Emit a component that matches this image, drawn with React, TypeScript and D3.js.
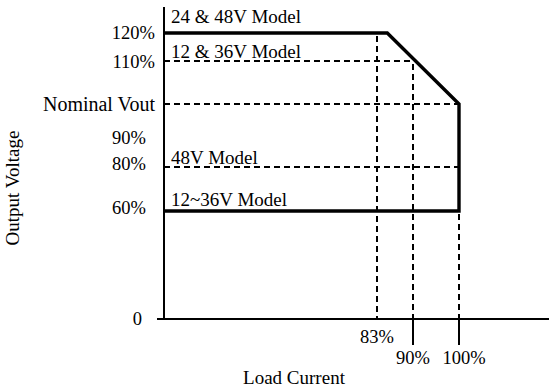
import React from "react";
import * as d3 from "d3";

// Y levels (percent of nominal output voltage)
const yLevels = [0, 60, 80, 90, 100, 110, 120];
const yLabels = ["0", "60%", "80%", "90%", "Nominal Vout", "110%", "120%"];
// X levels (percent load current)
const xTicks = [83, 90, 100];
const xTickLabels = ["83%", "90%", "100%"];
// Derating curves (load %, voltage %)
const upperCurve: [number, number][] = [[0, 120], [85, 120], [100, 100], [100, 60], [0, 60]];
// Model labels and the voltage level they sit on
const modelLabels = ["24 & 48V Model", "12 & 36V Model", "48V Model", "12~36V Model"];
const modelLevels = [120, 110, 80, 60];
// Dashed guide lines
const hGuides: [number, number, number][] = [[110, 0, 90], [100, 0, 100], [80, 0, 100]]; // [y, x0, x1]
const vGuides: [number, number, number][] = [[83, 120, 0], [90, 110, 0], [100, 60, 0]]; // [x, y0, y1]

const W = 550, H = 388;

export default function App() {
  const y = d3.scaleLinear().domain([0, 60, 80, 100, 110, 120]).range([319, 211, 167, 104, 61, 33]);
  const x = d3.scaleLinear().domain([0, 83, 90, 100]).range([164, 377, 413, 459]);
  const line = d3.line<[number, number]>().x(d => x(d[0])).y(d => y(d[1]));
  const font = "'Liberation Serif', 'Times New Roman', serif";

  const yLabelRight = (v: number) => (v === 0 ? 142 : v >= 100 ? 155 : 146);
  const yLabelDy = (v: number) => (v === 60 || v === 80 ? -3 : v === 90 ? 2 : v === 110 ? 1 : 0);
  const modelDy = (i: number) => (i === 0 ? -17 : i === 3 ? -12 : -10);

  return (
    <svg width={W} height={H} style={{ position: "absolute", left: 0, top: 0, background: "#fff" }}
      fontFamily={font}>
      {/* dashed guides */}
      {hGuides.map(([yy, x0, x1], i) => (
        <line key={"h" + i} x1={x(x0)} x2={x(x1) + 2} y1={y(yy)} y2={y(yy)}
          stroke="#000" strokeWidth={2} strokeDasharray="6,4" />
      ))}
      {vGuides.map(([xx, y0, y1], i) => (
        <line key={"v" + i} x1={x(xx)} x2={x(xx)} y1={y(y0) + 3} y2={y(y1)}
          stroke="#000" strokeWidth={2} strokeDasharray="6,4" />
      ))}
      {/* axes */}
      <line x1={164} x2={164} y1={7} y2={y(0)} stroke="#000" strokeWidth={2} />
      <line x1={157} x2={549} y1={y(0)} y2={y(0)} stroke="#000" strokeWidth={2} />
      {/* solid ticks below axis at 90% and 100% */}
      {xTicks.filter(t => t !== 83).map(t => (
        <line key={"t" + t} x1={x(t)} x2={x(t)} y1={y(0)} y2={y(0) + 26} stroke="#000" strokeWidth={2} />
      ))}
      {/* thick derating curve */}
      <path d={line(upperCurve) || ""} fill="none" stroke="#000" strokeWidth={3.4} strokeLinejoin="miter" />
      {/* y labels */}
      {yLevels.map((v, i) => (
        <text key={"yl" + v} x={yLabelRight(v)} y={y(v) + yLabelDy(v)} textAnchor="end"
          dominantBaseline="central" fontSize={v === 100 ? 20 : 18.5} fill="#000">{yLabels[i]}</text>
      ))}
      {/* x labels */}
      {xTicks.map((t, i) => (
        <text key={"xl" + t} x={x(t) + (t === 100 ? 5 : 0)} y={t === 83 ? 337 : 358} textAnchor="middle"
          dominantBaseline="central" fontSize={18.5} fill="#000">{xTickLabels[i]}</text>
      ))}
      {/* model labels */}
      {modelLabels.map((m, i) => (
        <text key={"m" + i} x={171} y={y(modelLevels[i]) + modelDy(i)} dominantBaseline="central"
          fontSize={19} fill="#000">{m}</text>
      ))}
      {/* axis titles */}
      <text x={294} y={377} textAnchor="middle" dominantBaseline="central" fontSize={19} fill="#000">Load Current</text>
      <text transform="translate(12,188) rotate(-90)" textAnchor="middle" dominantBaseline="central"
        fontSize={19} fill="#000">Output Voltage</text>
    </svg>
  );
}
